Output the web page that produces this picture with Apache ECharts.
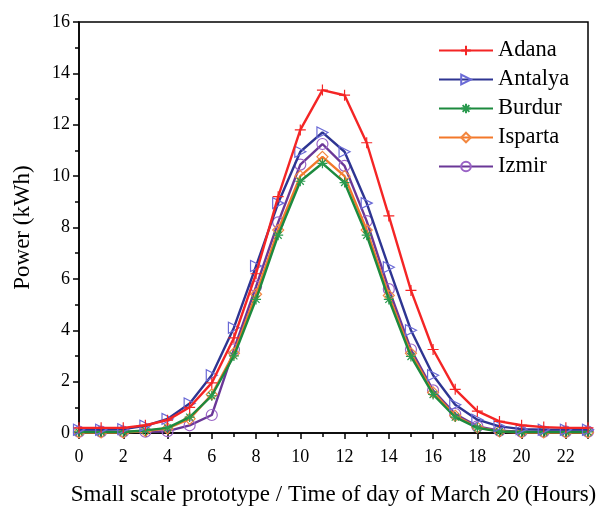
<!DOCTYPE html>
<html>
<head>
<meta charset="utf-8">
<script src="https://cdn.jsdelivr.net/npm/echarts@6/dist/echarts.min.js"></script>
<style>
  html, body { margin: 0; padding: 0; background: #fff; }
  #chart { width: 610px; height: 508px; }
</style>
</head>
<body>
<div id="chart"></div>
<script>
var hours = [0, 1, 2, 3, 4, 5, 6, 7, 8, 9, 10, 11, 12, 13, 14, 15, 16, 17, 18, 19, 20, 21, 22, 23]

var adana   = [0.2, 0.2, 0.2, 0.3, 0.5, 1.0, 1.95, 3.7, 6.2, 9.2, 11.8, 13.35, 13.15, 11.3, 8.45, 5.55, 3.25, 1.7, 0.85, 0.45, 0.3, 0.23, 0.2, 0.2]
var antalya = [0.13, 0.13, 0.15, 0.28, 0.55, 1.15, 2.25, 4.1, 6.5, 8.95, 10.95, 11.7, 10.95, 8.95, 6.45, 4.0, 2.25, 1.1, 0.52, 0.26, 0.15, 0.13, 0.13, 0.13]
var burdur  = [0.04, 0.04, 0.04, 0.1, 0.2, 0.62, 1.45, 3.0, 5.2, 7.7, 9.8, 10.5, 9.75, 7.7, 5.2, 2.98, 1.5, 0.62, 0.2, 0.06, 0.04, 0.04, 0.04, 0.04]
var isparta = [0.02, 0.02, 0.02, 0.08, 0.18, 0.55, 1.5, 3.1, 5.4, 7.9, 10.0, 10.75, 10.0, 7.9, 5.35, 3.1, 1.58, 0.67, 0.22, 0.06, 0.02, 0.02, 0.02, 0.02]
var izmir   = [0.05, 0.05, 0.05, 0.05, 0.07, 0.3, 0.7, 3.25, 5.7, 8.2, 10.45, 11.25, 10.4, 8.25, 5.6, 3.25, 1.66, 0.74, 0.26, 0.09, 0.05, 0.05, 0.05, 0.05]

var names  = ['Adana', 'Antalya', 'Burdur', 'Isparta', 'Izmir']
var lineColors   = ['#f42525', '#2e3592', '#1c8a3e', '#f3782a', '#6a3797']
var markerColors = ['#f42525', '#6a6ad6', '#2a9a4e', '#f3873f', '#9a64c6']
var symbols = [
  'path://M5,0L5,10M0,5L10,5',
  'triangle',
  'path://M5,0L5,10M0,5L10,5M1.5,1.5L8.5,8.5M8.5,1.5L1.5,8.5',
  'diamond',
  'circle'
]
var symbolRotate = [0, -90, 0, 0, 0]
var symbolSizes = [11, 11, 10, 11, 11]
var values = [adana, antalya, burdur, isparta, izmir]

var font = 'Liberation Serif'

function pairs(ys) {
  return hours.map(function (h, i) { return [h, ys[i]] })
}

var series = names.map(function (n, i) {
  return {
    name: n,
    type: 'line',
    data: pairs(values[i]),
    symbol: symbols[i],
    symbolSize: symbolSizes[i],
    symbolRotate: symbolRotate[i],
    showAllSymbol: true,
    clip: false,
    z: 10 - i,
    lineStyle: { color: lineColors[i], width: 2.4 },
    itemStyle: {
      color: 'rgba(255,255,255,0)',
      borderColor: markerColors[i],
      borderWidth: 1.2
    }
  }
})

var chart = echarts.init(document.getElementById('chart'))
chart.setOption({
  animation: false,
  backgroundColor: '#fff',
  grid: {
    left: 79, right: 22, top: 22, bottom: 75,
    outerBoundsMode: 'none',
    show: true, borderColor: '#000', borderWidth: 1.5
  },
  legend: {
    left: 433, top: 34,
    orient: 'vertical',
    itemWidth: 54, itemHeight: 12, itemGap: 6,
    textStyle: { fontFamily: font, fontSize: 22.5, color: '#000' },
    data: names
  },
  xAxis: {
    type: 'value',
    min: 0, max: 23, interval: 2,
    name: 'Small scale prototype / Time of day of March 20 (Hours)',
    nameLocation: 'middle', nameGap: 50,
    nameTextStyle: { fontFamily: font, fontSize: 23, color: '#000' },
    axisLine: { lineStyle: { color: '#000', width: 1.5 } },
    axisTick: { length: 6, lineStyle: { color: '#000', width: 1.5 } },
    minorTick: { show: true, splitNumber: 2, length: 4, lineStyle: { color: '#000', width: 1.5 } },
    axisLabel: { fontFamily: font, fontSize: 18, color: '#000', margin: 15, showMaxLabel: false },
    splitLine: { show: false }
  },
  yAxis: {
    type: 'value',
    min: 0, max: 16, interval: 2,
    name: 'Power (kWh)',
    nameLocation: 'middle', nameGap: 45,
    nameTextStyle: { fontFamily: font, fontSize: 23, color: '#000' },
    axisLine: { lineStyle: { color: '#000', width: 1.5 } },
    axisTick: { length: 6, lineStyle: { color: '#000', width: 1.5 } },
    minorTick: { show: true, splitNumber: 2, length: 4, lineStyle: { color: '#000', width: 1.5 } },
    axisLabel: { fontFamily: font, fontSize: 18, color: '#000', margin: 9 },
    splitLine: { show: false }
  },
  series: series
})
</script>
</body>
</html>
